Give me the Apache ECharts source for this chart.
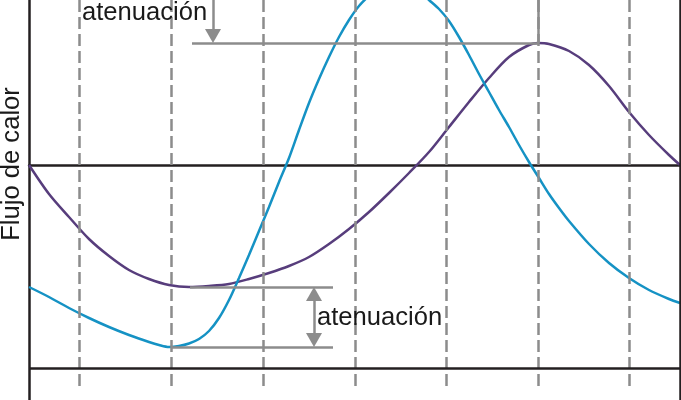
<!DOCTYPE html>
<html>
<head>
<meta charset="utf-8">
<script src="https://cdn.jsdelivr.net/npm/echarts@6/dist/echarts.min.js"></script>
<style>html,body{margin:0;padding:0;background:#fff}#c{width:681px;height:400px}</style>
</head>
<body>
<div id="c"></div>
<script>
// Heat flux curves (x: time units, y: flux relative to zero line)
const blueFlux = [[0,-122],[20,-132],[40,-143],[60,-153],[80,-162],[100,-170],[120,-177],[130,-180],[140,-182],[150,-181],[160,-178.5],[170,-174],[180,-166],[190,-153],[200,-135],[210,-113],[220,-90],[230,-66],[240,-42],[250,-17],[260,7],[270,35],[280,62],[290,86],[300,108],[310,128],[320,145],[330,159],[340,169],[350,176],[360,181],[366,182],[380,179],[390,174],[400,165],[410,156],[420,144],[430,128],[440,110],[450,91],[460,73],[470,55],[480,38],[490,20],[500,3],[510,-13],[520,-29],[530,-43],[540,-56],[560,-79],[580,-98],[600,-113],[620,-125],[640,-134],[651,-138]];
const purpleFlux = [[0,0],[20,-29],[40,-52],[60,-74],[80,-91],[100,-105],[120,-114],[140,-120],[160,-122],[180,-121],[200,-119],[220,-114],[240,-108],[260,-101],[280,-92],[300,-79],[320,-64],[340,-47],[360,-28],[380,-8],[400,13],[420,38],[440,63],[460,87],[480,108],[500,120],[509,122],[520,121],[540,114],[560,100],[580,79],[600,53],[620,30],[640,10],[651,0]];
const dashedX = [50,142,234,326,417,509,600];
const labelText = 'atenuación';
const yName = 'Flujo de calor';

const gray = '#8c8c8c';
const black = '#231f20';
const solidGray = {color:gray,width:2.5,type:'solid'};
const lines = [];
dashedX.forEach(x => lines.push([{coord:[x,165],symbol:'none'},{coord:[x,-223],symbol:'none',lineStyle:{color:gray,width:2.5,type:[12,5]}}]));
// frame lines
lines.push([{coord:[0,-203],symbol:'none'},{coord:[651,-203],symbol:'none',lineStyle:{color:black,width:2.5,type:'solid'}}]);
lines.push([{coord:[651,165],symbol:'none'},{coord:[651,-235],symbol:'none',lineStyle:{color:black,width:2.5,type:'solid'}}]);
// top attenuation annotation
lines.push([{coord:[163,122],symbol:'none'},{coord:[509,122],symbol:'none',lineStyle:solidGray}]);
lines.push([{coord:[509,165],symbol:'none'},{coord:[509,122],symbol:'none',lineStyle:solidGray}]);
lines.push([{coord:[184,165],symbol:'none'},{coord:[184,129],symbol:'triangle',symbolSize:[16,14],lineStyle:solidGray}]);
// bottom attenuation annotation
lines.push([{coord:[161,-122],symbol:'none'},{coord:[304,-122],symbol:'none',lineStyle:solidGray}]);
lines.push([{coord:[143,-182],symbol:'none'},{coord:[304,-182],symbol:'none',lineStyle:solidGray}]);
lines.push([{coord:[285,-129],symbol:'triangle',symbolSize:[16,14]},{coord:[285,-175],symbol:'triangle',symbolSize:[16,14],lineStyle:solidGray}]);

const font = '25.6px "Liberation Sans", Arial, sans-serif';
const chart = echarts.init(document.getElementById('c'), null, {renderer:'canvas'});
chart.setOption({
  animation:false,
  backgroundColor:'#fff',
  grid:{left:29,right:1,top:0,bottom:0},
  xAxis:{type:'value',min:0,max:651,axisLine:{show:true,onZero:true,lineStyle:{color:black,width:2.5}},axisTick:{show:false},axisLabel:{show:false},splitLine:{show:false}},
  yAxis:{type:'value',min:-235,max:165,axisLine:{show:true,lineStyle:{color:black,width:2.5}},axisTick:{show:false},axisLabel:{show:false},splitLine:{show:false}},
  series:[
    {type:'line',data:[],z:1,silent:true,
     markLine:{silent:true,animation:false,label:{show:false},emphasis:{disabled:true},
       lineStyle:{color:gray,width:2.5,type:'solid'},itemStyle:{color:gray},data:lines}},
    {type:'line',data:purpleFlux,smooth:0.3,showSymbol:false,z:3,lineStyle:{color:'#573d7c',width:2.5},silent:true},
    {type:'line',data:blueFlux,smooth:0.3,showSymbol:false,z:4,lineStyle:{color:'#1592c4',width:2.5},silent:true}
  ],
  graphic:[
    {type:'text',x:82,y:13,z:10,style:{text:labelText,font:font,fill:'#1a1a1a',align:'left',verticalAlign:'middle'}},
    {type:'text',x:317,y:318,z:10,style:{text:labelText,font:font,fill:'#1a1a1a',align:'left',verticalAlign:'middle'}},
    {type:'text',x:12,y:164,rotation:Math.PI/2,z:10,style:{text:yName,font:font,fill:'#1a1a1a',align:'center',verticalAlign:'middle'}}
  ]
});
</script>
</body>
</html>
